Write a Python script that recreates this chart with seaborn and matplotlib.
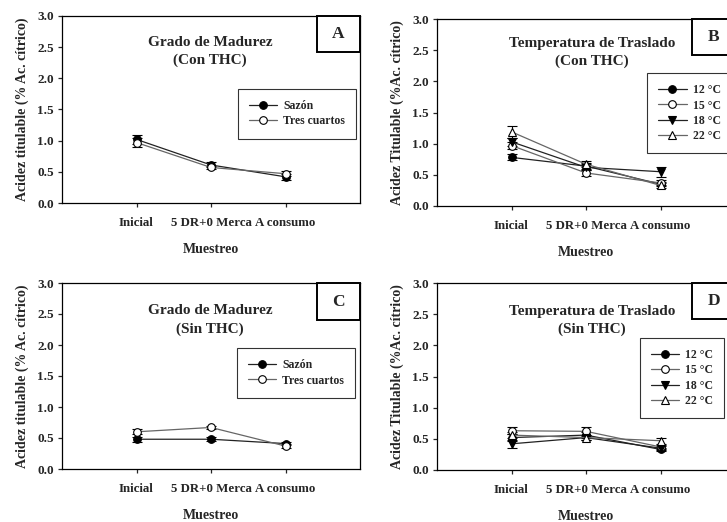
import matplotlib
matplotlib.use("Agg")
import matplotlib.pyplot as plt
import matplotlib.patches as mpatches
import seaborn as sns
import pandas as pd
import numpy as np

# ---------------- data ----------------
muestreo = ["Inicial", "5 DR+0 Merca", "A consumo"]

# Panel A: Grado de Madurez (Con THC)
a_sazon = [1.02, 0.61, 0.42]
a_sazon_err = [0.07, 0.04, 0.05]
a_tres = [0.97, 0.57, 0.47]
a_tres_err = [0.07, 0.03, 0.04]

# Panel B: Temperatura de Traslado (Con THC)
b_12 = [0.78, 0.64, 0.35]
b_12_err = [0.05, 0.05, 0.03]
b_15 = [0.97, 0.53, 0.37]
b_15_err = [0.05, 0.05, 0.04]
b_18 = [1.03, 0.62, 0.55]
b_18_err = [0.06, 0.05, 0.08]
b_22 = [1.19, 0.67, 0.33]
b_22_err = [0.10, 0.05, 0.04]

# Panel C: Grado de Madurez (Sin THC)
c_sazon = [0.48, 0.48, 0.41]
c_sazon_err = [0.04, 0.03, 0.03]
c_tres = [0.60, 0.67, 0.37]
c_tres_err = [0.04, 0.03, 0.03]

# Panel D: Temperatura de Traslado (Sin THC)
d_12 = [0.52, 0.56, 0.33]
d_12_err = [0.05, 0.05, 0.03]
d_15 = [0.63, 0.62, 0.37]
d_15_err = [0.06, 0.07, 0.03]
d_18 = [0.42, 0.52, 0.35]
d_18_err = [0.06, 0.04, 0.03]
d_22 = [0.56, 0.52, 0.47]
d_22_err = [0.05, 0.04, 0.05]

madurez_labels = ["Sazón", "Tres cuartos"]
temp_labels = ["12 °C", "15 °C", "18 °C", "22 °C"]

# ---------------- style ----------------
sns.set_theme(style="ticks")
plt.rcParams["font.family"] = ["Liberation Serif", "DejaVu Serif"]
plt.rcParams["font.weight"] = "bold"
plt.rcParams["axes.labelweight"] = "bold"
plt.rcParams["axes.linewidth"] = 0.9
plt.rcParams["xtick.major.size"] = 3
plt.rcParams["ytick.major.size"] = 3
plt.rcParams["xtick.major.width"] = 0.9
plt.rcParams["ytick.major.width"] = 0.9

fig = plt.figure(figsize=(7.27, 5.22), dpi=100)
W, H = 727.0, 522.0
axA = fig.add_axes([62 / W, 1 - 203 / H, 298 / W, 187 / H])
axB = fig.add_axes([437 / W, 1 - 206 / H, 298 / W, 187 / H])
axC = fig.add_axes([62 / W, 1 - 469 / H, 298 / W, 186 / H])
axD = fig.add_axes([437 / W, 1 - 470 / H, 298 / W, 187 / H])

styles_mad = [("o", "black", "#222222"), ("o", "white", "#666666")]
styles_temp = [("o", "black", "#222222"), ("o", "white", "#666666"),
               ("v", "black", "#222222"), ("^", "white", "#666666")]


def draw(ax, series, errs, labels, styles):
    for vals, err, lab, (mk, fc, lc) in zip(series, errs, labels, styles):
        df = pd.DataFrame({"Muestreo": muestreo, "val": vals})
        ax.errorbar(muestreo, vals, yerr=err, fmt="none", ecolor="black",
                    elinewidth=0.8, capsize=3.5, capthick=0.8, zorder=2)
        sns.lineplot(data=df, x="Muestreo", y="val", ax=ax, sort=False,
                     color=lc, linewidth=0.9, marker=mk, markersize=5.5,
                     markerfacecolor=fc, markeredgecolor="black",
                     markeredgewidth=0.8, label=lab, zorder=3)


def finish(ax, title, letter, ylabel, leg_bbox, title_x, title_y, box_x, box_y):
    ax.set_xlim(-1, 3)
    ax.set_ylim(0, 3.0)
    ax.set_yticks(np.arange(0, 3.01, 0.5))
    ax.set_yticklabels([f"{v:.1f}" for v in np.arange(0, 3.01, 0.5)],
                       fontsize=9.5, fontweight="bold")
    ax.set_xticks(range(len(muestreo)))
    ax.set_xticklabels(muestreo, fontsize=9.3, fontweight="bold")
    ax.tick_params(axis="x", pad=7)
    ax.tick_params(axis="y", pad=3)
    ax.set_xlabel("Muestreo", fontsize=10, fontweight="bold", labelpad=10.5)
    ax.set_ylabel(ylabel, fontsize=10, fontweight="bold", labelpad=6)
    for s in ax.spines.values():
        s.set_visible(True)
        s.set_color("black")
    ax.text(title_x, title_y, title, transform=ax.transAxes, ha="center",
            va="center", fontsize=11, fontweight="bold", linespacing=1.5)
    rect = mpatches.Rectangle((box_x, box_y), 1 - box_x, 1 - box_y,
                              transform=ax.transAxes, fill=True,
                              facecolor="white", edgecolor="black",
                              linewidth=1.4, clip_on=False, zorder=5)
    ax.add_patch(rect)
    ax.text(box_x + 0.072, (1 + box_y) / 2, letter, transform=ax.transAxes,
            ha="center", va="center", fontsize=12.5, fontweight="bold",
            zorder=6)
    leg = ax.legend(loc="upper left", bbox_to_anchor=leg_bbox,
                    frameon=True, fancybox=False, edgecolor="black",
                    fontsize=8.5, handlelength=2.4, borderpad=0.95,
                    labelspacing=0.28, handletextpad=0.5, borderaxespad=0)
    leg.get_frame().set_linewidth(0.8)
    for t in leg.get_texts():
        t.set_fontweight("bold")


draw(axA, [a_sazon, a_tres], [a_sazon_err, a_tres_err], madurez_labels, styles_mad)
finish(axA, "Grado de Madurez\n(Con THC)", "A",
       "Acidez titulable (% Ac. cítrico)", (0.59, 0.61), 0.497, 0.81, 0.856, 0.807)

draw(axB, [b_12, b_15, b_18, b_22], [b_12_err, b_15_err, b_18_err, b_22_err],
     temp_labels, styles_temp)
finish(axB, "Temperatura de Traslado\n(Con THC)", "B",
       "Acidez Titulable (%Ac. cítrico)", (0.705, 0.711), 0.52, 0.82, 0.856, 0.81)

draw(axC, [c_sazon, c_tres], [c_sazon_err, c_tres_err], madurez_labels, styles_mad)
finish(axC, "Grado de Madurez\n(Sin THC)", "C",
       "Acidez titulable (% Ac. cítrico)", (0.587, 0.65), 0.497, 0.80, 0.856, 0.80)

draw(axD, [d_12, d_15, d_18, d_22], [d_12_err, d_15_err, d_18_err, d_22_err],
     temp_labels, styles_temp)
finish(axD, "Temperatura de Traslado\n(Sin THC)", "D",
       "Acidez Titulable (%Ac. cítrico)", (0.68, 0.706), 0.52, 0.80, 0.856, 0.81)

fig.savefig("out.png", dpi=100)
